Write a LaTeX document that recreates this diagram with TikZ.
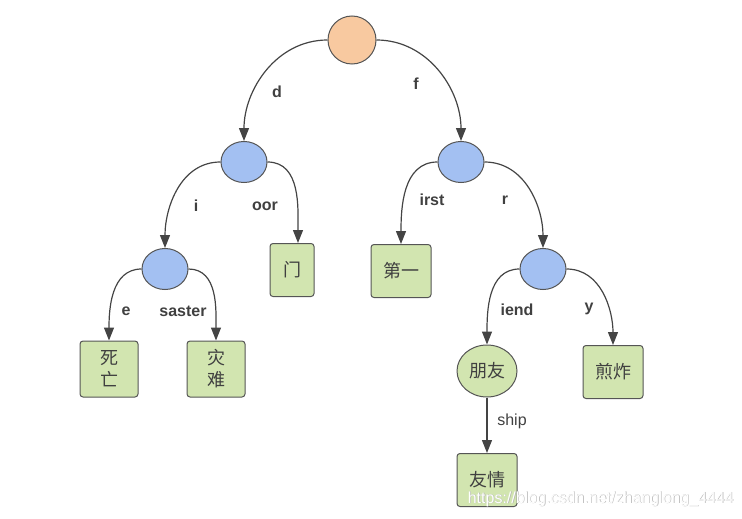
\documentclass[tikz,border=0pt]{standalone}
\usepackage{fontspec}
\setmainfont{Liberation Sans}
\newfontfamily\cjk{Noto Sans CJK SC}
\usetikzlibrary{arrows.meta,shapes.geometric}

\definecolor{rootfill}{HTML}{F8C9A0}
\definecolor{innerfill}{HTML}{A3C0F2}
\definecolor{leaffill}{HTML}{D2E5B0}
\definecolor{edgegray}{HTML}{444444}
\definecolor{bordergray}{HTML}{555555}

\tikzset{
  rootnode/.style={circle, draw=bordergray, line width=1pt, fill=rootfill, minimum size=48pt, inner sep=0pt},
  innernode/.style={ellipse, draw=bordergray, line width=1pt, fill=innerfill, minimum width=46pt, minimum height=41pt, inner sep=0pt},
  wordnode/.style={ellipse, draw=bordergray, line width=1pt, fill=leaffill, minimum width=60pt, minimum height=52pt, inner sep=0pt, font=\cjk\fontsize{18}{20}\selectfont, text=black!75},
  leafbox/.style={rectangle, rounded corners=3pt, draw=bordergray, line width=1pt, fill=leaffill, minimum width=58pt, minimum height=53pt, inner sep=0pt, align=center, font=\cjk\fontsize{18}{22}\selectfont, text=black!75},
  edge/.style={draw=edgegray, line width=1.2pt, -{Triangle[length=13pt,width=10pt]}},
  edgelabel/.style={font=\bfseries\fontsize{16}{18}\selectfont, text=black!75, inner sep=0pt}
}

\begin{document}
\begin{tikzpicture}[x=1pt,y=-1pt]
\useasboundingbox (0,0) rectangle (742,519);

% tree nodes
\node[rootnode] (root) at (352,40) {};
\node[innernode] (d) at (244,162) {};
\node[innernode] (f) at (461,162) {};
\node[innernode] (di) at (165,269) {};
\node[leafbox, minimum width=44pt] (door) at (292,270) {门};
\node[leafbox, minimum width=60pt] (first) at (401,271) {第一};
\node[innernode] (fr) at (543,269) {};
\node[leafbox, minimum height=56pt] (die) at (109,369) {死\\亡};
\node[leafbox, minimum height=56pt] (disaster) at (216,369) {灾\\难};
\node[wordnode] (friend) at (487,371) {朋友};
\node[leafbox, minimum width=60pt] (fry) at (613,372) {煎炸};
\node[leafbox, minimum width=60pt] (friendship) at (487,480) {\raisebox{2pt}{友情}};

% connectors
\draw[edge] (root.west) to[out=180,in=90] (d.north);
\draw[edge] (root.east) to[out=0,in=90] (f.north);
\draw[edge] (d.west) to[out=180,in=90] (di.north);
\draw[edge] (d.east) to[out=0,in=90] ([xshift=6pt]door.north);
\draw[edge] (f.west) to[out=180,in=90] (first.north);
\draw[edge] (f.east) to[out=0,in=90] (fr.north);
\draw[edge] (di.west) to[out=180,in=90] (die.north);
\draw[edge] (di.east) to[out=0,in=90] (disaster.north);
\draw[edge] (fr.west) to[out=180,in=90] (friend.north);
\draw[edge] (fr.east) to[out=0,in=90] (fry.north);
\draw[edge] (friend.south) -- (friendship.north);

% edge labels
\node[edgelabel] (ld) at (277,92) {d};
\node[edgelabel] (lf) at (416,84) {f};
\node[edgelabel] (li) at (196,206) {i};
\node[edgelabel] (loor) at (265,206) {oor};
\node[edgelabel] (lirst) at (432,200) {irst};
\node[edgelabel] (lr) at (505,200) {r};
\node[edgelabel] (le) at (126,311) {e};
\node[edgelabel] (lsaster) at (183,311) {saster};
\node[edgelabel] (liend) at (517,310) {iend};
\node[edgelabel] (ly) at (589,309) {y};
\node[edgelabel, font=\fontsize{16}{18}\selectfont] (lship) at (512,421) {ship};

% site address along the bottom edge
\node[font=\fontsize{16}{18}\selectfont, text=black!30, anchor=east, inner sep=0pt] (urlshade) at (734.6,499.6) {https://blog.csdn.net/zhanglong\_4444};
\node[font=\fontsize{16}{18}\selectfont, text=white, anchor=east, inner sep=0pt] (url) at (734,499) {https://blog.csdn.net/zhanglong\_4444};
\end{tikzpicture}
\end{document}
